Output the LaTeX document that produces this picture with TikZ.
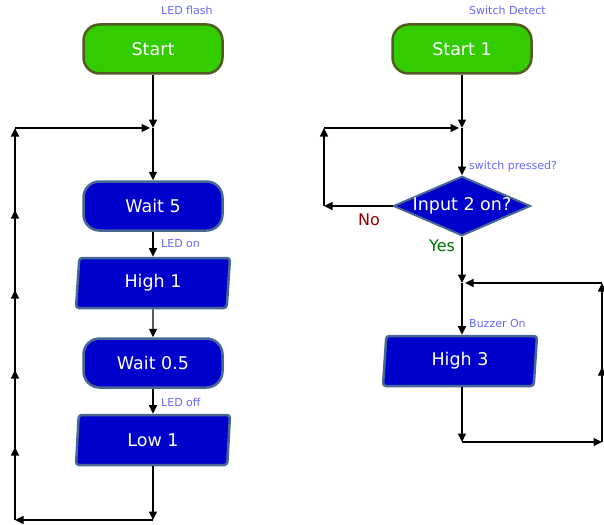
\documentclass[tikz,border=0pt]{standalone}
\usepackage{fontspec}
\setmainfont{DejaVu Sans}
\usetikzlibrary{arrows.meta,shapes.geometric,decorations.markings}

\definecolor{startgreen}{RGB}{51,204,0}
\definecolor{startedge}{RGB}{80,92,36}
\definecolor{boxblue}{RGB}{0,0,204}
\definecolor{boxedge}{RGB}{72,104,148}
\definecolor{notecol}{RGB}{102,102,255}
\definecolor{nocol}{RGB}{150,0,0}
\definecolor{yescol}{RGB}{0,112,0}

\tikzset{
  boxfont/.style={text=white, font=\fontsize{17.5}{19}\selectfont},
  startbox/.style={rectangle, rounded corners=16pt, draw=startedge, fill=startgreen,
    line width=2.5pt, minimum width=139pt, minimum height=49pt, boxfont},
  waitbox/.style={startbox, draw=boxedge, fill=boxblue},
  outbox/.style={trapezium, trapezium left angle=82, trapezium right angle=98,
    trapezium stretches body, rounded corners=3pt, draw=boxedge, fill=boxblue,
    line width=2.5pt, minimum width=154pt, minimum height=50pt, boxfont},
  decide/.style={diamond, aspect=2.3, inner sep=0pt, minimum width=137pt,
    minimum height=58pt, draw=boxedge, fill=boxblue, line width=2pt, boxfont},
  note/.style={anchor=west, inner sep=0pt, text=notecol, font=\fontsize{11}{12}\selectfont},
  tip/.style={-{Triangle[length=8.5pt,width=8pt]}},
  flow/.style={draw=black, line width=1.3pt, tip},
  loopup/.style={flow, postaction=decorate, decoration={markings, #1}},
}

\begin{document}
\begin{tikzpicture}[x=1pt,y=-1pt]
\useasboundingbox (0,0) rectangle (604,524);

% LED flash
\node[startbox] (start) at (153,49) {Start};
\node[note] (ledflash) at (161,10) {LED flash};
\coordinate (jl) at (153,128);
\coordinate (jlin) at (150,128);
\coordinate (ltl) at (15,128);
\coordinate (lbl) at (15,520);
\coordinate (lb) at (153,520);
\node[waitbox] (wait5) at (153,206) {Wait 5};
\node[note] (ledon) at (161,244) {LED on};
\node[outbox] (high1) at (153,283) {High 1};
\node[waitbox] (wait05) at (153,363) {Wait 0.5};
\node[note] (ledoff) at (161,402) {LED off};
\node[outbox] (low1) at (153,440) {Low 1};

\draw[flow] (start) -- (jl);
\draw[flow] (jl) -- (wait5);
\draw[flow] (wait5) -- (high1);
\draw[flow] (high1) -- (wait05);
\draw[flow] (wait05) -- (low1);
\draw[flow] (low1) -- (lb);
\draw[flow] (lb) -- (lbl);
\draw[loopup={mark=at position 73pt with {\arrow{Triangle[length=8.5pt,width=8pt]}},
  mark=at position 150pt with {\arrow{Triangle[length=8.5pt,width=8pt]}},
  mark=at position 230pt with {\arrow{Triangle[length=8.5pt,width=8pt]}},
  mark=at position 310pt with {\arrow{Triangle[length=8.5pt,width=8pt]}}}] (lbl) -- (ltl);
\draw[flow] (ltl) -- (jlin);

% Switch Detect
\node[startbox] (start1) at (462,49) {Start 1};
\node[note] (swdetect) at (469,10) {Switch Detect};
\coordinate (jr) at (462,128);
\coordinate (jrin) at (459,128);
\coordinate (rtl) at (324,128);
\coordinate (rbl) at (324,206);
\node[decide] (input2) at (462,206) {Input 2 on?};
\node[note] (pressed) at (469,166) {switch pressed?};
\node[text=nocol, font=\fontsize{16}{17}\selectfont] (no) at (369,220) {No};
\node[text=yescol, font=\fontsize{16}{17}\selectfont] (yes) at (442,246) {Yes};
\coordinate (jy) at (462,283);
\coordinate (jyin) at (465,283);
\coordinate (rtr) at (602,283);
\coordinate (rbr) at (602,442);
\coordinate (rb) at (462,442);
\node[note] (buzzer) at (469,323) {Buzzer On};
\node[outbox] (high3) at (460,361) {High 3};

\draw[flow] (start1) -- (jr);
\draw[flow] (jr) -- (input2);
\draw[flow] (input2.west) -- (rbl);
\draw[flow] (rbl) -- (rtl);
\draw[flow] (rtl) -- (jrin);
\draw[flow] (input2.south) -- (jy);
\draw[flow] (jy) -- (jy |- high3.north);
\draw[flow] (jy |- high3.south) -- (rb);
\draw[flow] (rb) -- (rbr);
\draw[loopup={mark=at position 75pt with {\arrow{Triangle[length=8.5pt,width=8pt]}}}] (rbr) -- (rtr);
\draw[flow] (rtr) -- (jyin);
\end{tikzpicture}
\end{document}
